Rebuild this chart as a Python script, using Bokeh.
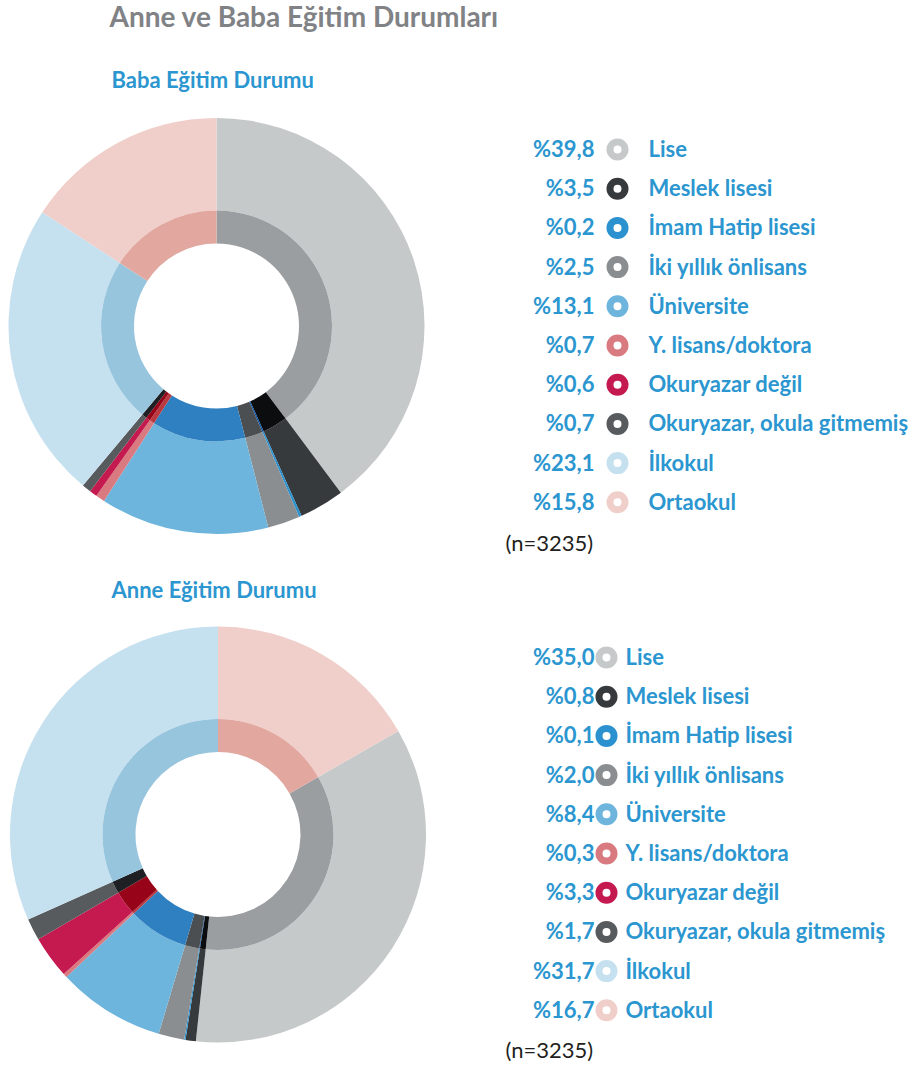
import math
from bokeh.plotting import figure
from bokeh.models import Range1d, ColumnDataSource
from bokeh.core.properties import value
from bokeh.embed import file_html
from bokeh.resources import INLINE

# ---------------- data ----------------
categories = ["Lise", "Meslek lisesi", "İmam Hatip lisesi", "İki yıllık önlisans",
              "Üniversite", "Y. lisans/doktora", "Okuryazar değil",
              "Okuryazar, okula gitmemiş", "İlkokul", "Ortaokul"]
baba_values = [39.8, 3.5, 0.2, 2.5, 13.1, 0.7, 0.6, 0.7, 23.1, 15.8]
anne_values = [35.0, 0.8, 0.1, 2.0, 8.4, 0.3, 3.3, 1.7, 31.7, 16.7]
colors = ["#c6c9ca", "#373a3d", "#2b92cf", "#8a8e91", "#6db5dd",
          "#d97a80", "#c41a4f", "#575b5e", "#c5e0ee", "#f0cfca"]
sample_label = "(n=3235)"
title_text = "Anne ve Baba Eğitim Durumları"
baba_title = "Baba Eğitim Durumu"
anne_title = "Anne Eğitim Durumu"

# ---------------- style ----------------
W, H = 914, 1069
FONT = value("Lato")
BLUE = "#2b96cf"
GREY = "#808285"


def shade(hex_color):
    r, g, b = (int(hex_color[i:i + 2], 16) for i in (1, 3, 5))
    return "#%02x%02x%02x" % (round(r * r / 255), round(g * g / 255), round(b * b / 255))


p = figure(width=W, height=H, output_backend="svg", toolbar_location=None,
           x_range=Range1d(0, W), y_range=Range1d(-H, 0),
           x_axis_type=None, y_axis_type=None, min_border=0)
p.grid.grid_line_color = None
p.outline_line_color = None
p.background_fill_color = "white"


def donut(values, cx, cy, start_share):
    total = sum(values)
    starts, ends = [], []
    acc = start_share
    for v in values:
        t0 = acc / total * 2 * math.pi
        acc += v
        t1 = acc / total * 2 * math.pi
        starts.append(math.pi / 2 - t0)
        ends.append(math.pi / 2 - t1)
    src = ColumnDataSource(dict(x=[cx] * len(values), y=[-cy] * len(values),
                                s=starts, e=ends, c=colors,
                                d=[shade(c) for c in colors]))
    p.annular_wedge(x="x", y="y", inner_radius=115.5, outer_radius=208,
                    start_angle="s", end_angle="e", direction="clock",
                    fill_color="c", line_color=None, source=src)
    p.annular_wedge(x="x", y="y", inner_radius=82.5, outer_radius=115.5,
                    start_angle="s", end_angle="e", direction="clock",
                    fill_color="d", line_color=None, source=src)


def legend(values, y0, pct_x, mark_x, lab_x):
    ys = [y0 + i * 39.2 for i in range(len(values))]
    pct = ["%" + ("%.1f" % v).replace(".", ",") for v in values]
    p.annulus(x=[mark_x] * len(values), y=[-y for y in ys], inner_radius=4,
              outer_radius=11, fill_color=colors, line_color=None)
    p.text(x=[pct_x] * len(values), y=[-(y - 1) for y in ys], text=pct,
           text_align="right", text_baseline="middle", text_font=FONT,
           text_font_style="bold", text_font_size="22px", text_color=BLUE)
    p.text(x=[lab_x] * len(values), y=[-(y - 1) for y in ys], text=categories,
           text_align="left", text_baseline="middle", text_font=FONT,
           text_font_style="bold", text_font_size="22px", text_color=BLUE)


# title + subtitles
p.text(x=[109], y=[-15.5], text=[title_text], text_font=FONT, text_font_style="bold",
       text_font_size="28px", text_color=GREY, text_baseline="middle")
p.text(x=[111, 111], y=[-78.5, -588.5], text=[baba_title, anne_title], text_font=FONT,
       text_font_style="bold", text_font_size="22px", text_color=BLUE,
       text_baseline="middle")

# baba
donut(baba_values, 216, 325.5, 0.0)
legend(baba_values, 149, 594, 617, 648)
# anne: Ortaokul (last category) starts at 12 o'clock
donut(anne_values, 217.5, 834, anne_values[-1])
legend(anne_values, 657, 594, 606, 625)

p.text(x=[505, 505], y=[-541.5, -1049], text=[sample_label, sample_label], text_font=FONT,
       text_font_size="22px", text_color="#231f20", text_baseline="middle")

open("out.html", "w").write(file_html(p, INLINE))
